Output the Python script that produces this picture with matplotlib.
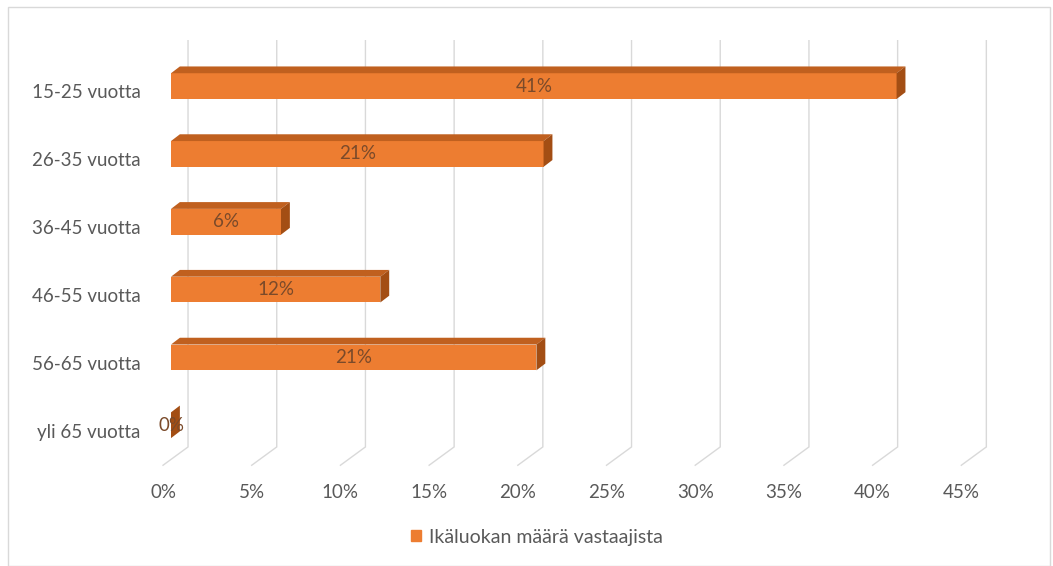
import matplotlib
matplotlib.use("Agg")
import matplotlib.pyplot as plt
from matplotlib.patches import Polygon, Patch, Rectangle
import numpy as np

plt.rcParams['font.family'] = ['Lato', 'DejaVu Sans']

# data
categories = ["15-25 vuotta", "26-35 vuotta", "36-45 vuotta",
              "46-55 vuotta", "56-65 vuotta", "yli 65 vuotta"]
shares = [40.9, 21.0, 6.2, 11.8, 20.6, 0.0]
x_ticks = [0, 5, 10, 15, 20, 25, 30, 35, 40, 45]
x_labels = ["0%", "5%", "10%", "15%", "20%", "25%", "30%", "35%", "40%", "45%"]
legend_label = "Ikäluokan määrä vastaajista"

front = "#ED7D31"
top_c = "#C0601F"
side_c = "#A34E14"
grid_c = "#d9d9d9"
txt_c = "#595959"
fs = 13.5

fig = plt.figure(figsize=(10.53, 5.66), dpi=100)
ax = fig.add_axes([150/1053, 1-470/566, 850/1053, 430/566])
ax.set_xlim(-1.184, 46.73)
ax.set_ylim(5.56, -0.78)
ax.axis("off")

# 3d-ish depth offsets (data units)
dx, dy = 0.5, 0.10           # bar top / side face
back_dx = 0.96               # back wall gridlines
floor_y, front_floor_y = 5.22, 5.49
floor_dx = -1.41

for v, lab in zip(x_ticks, x_labels):
    xb = v + back_dx
    ax.plot([xb, xb, xb + floor_dx], [-0.78, floor_y, front_floor_y],
            color=grid_c, lw=1.0, zorder=1, solid_joinstyle="miter")
    ax.text(xb + floor_dx, front_floor_y + 0.4, lab,
            ha="center", va="center", fontsize=fs, color=txt_c)

ypos = np.arange(len(categories))
h = 0.38
for y, v, cat in zip(ypos, shares, categories):
    yc = y - 0.1
    yt, yb = yc - h/2, yc + h/2
    ax.barh(yc, v, height=h, left=0, color=front, zorder=3)
    ax.add_patch(Polygon([(0, yt), (v, yt), (v + dx, yt - dy), (dx, yt - dy)],
                         closed=True, color=top_c, zorder=3, lw=0))
    ax.add_patch(Polygon([(v, yt), (v + dx, yt - dy), (v + dx, yb - dy), (v, yb)],
                         closed=True, color=side_c, zorder=3, lw=0))
    ax.text(v/2, yc, f"{round(v)}%", ha="center", va="center",
            fontsize=fs, color="#7a4a2a", zorder=4)
    ax.text(-1.7, y, cat, ha="right", va="center", fontsize=fs, color=txt_c)

fig.legend(handles=[Patch(color=front)], labels=[legend_label],
           loc="center", bbox_to_anchor=(0.51, 1-537/566), frameon=False,
           handlelength=0.5, handleheight=0.5, handletextpad=0.4,
           fontsize=14, labelcolor=txt_c)

fig.patches.append(Rectangle((8/1053, 0), 1042/1053, 1-7/566, transform=fig.transFigure,
                             fill=False, edgecolor=grid_c, lw=1))

fig.savefig("out.png", dpi=100)
